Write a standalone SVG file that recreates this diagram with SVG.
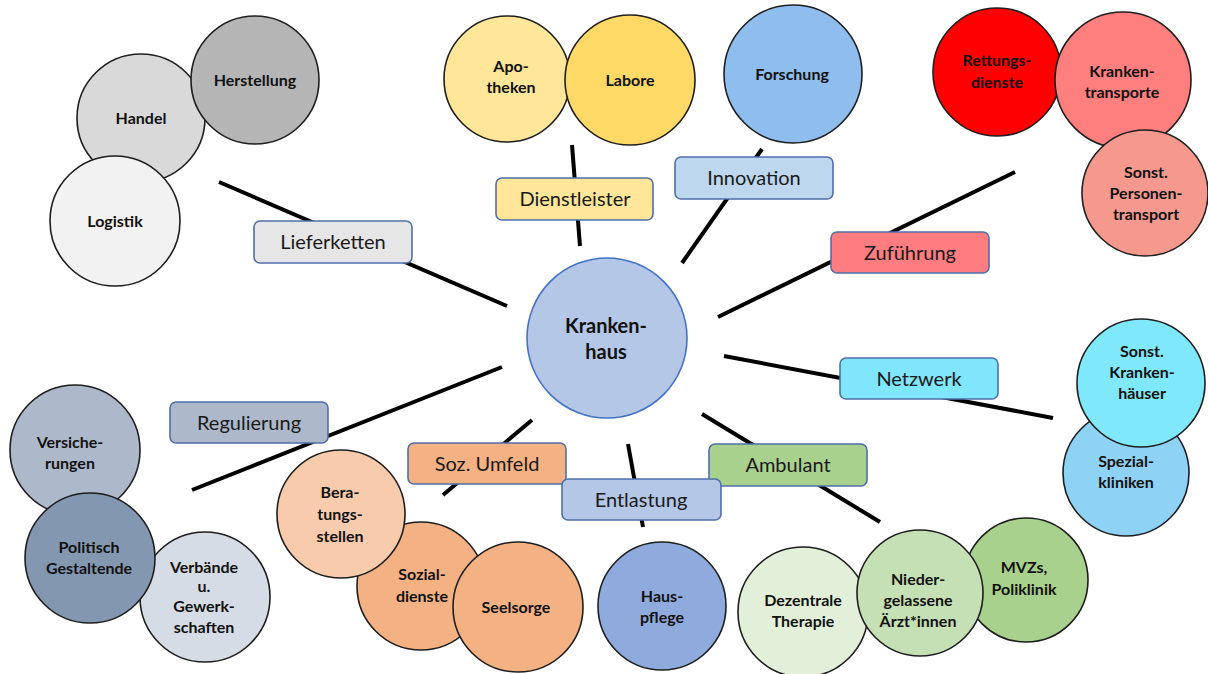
<svg xmlns="http://www.w3.org/2000/svg" width="1208" height="674" viewBox="0 0 1208 674">
<style>
.c{stroke:#1e1e1e;stroke-width:1.6}
.b{stroke:#4f6fa8;stroke-width:1.6}
.t{font-family:Lato,"Liberation Sans",sans-serif;font-weight:700;font-size:16px;fill:#111;text-anchor:middle}
.bt{font-family:Lato,"Liberation Sans",sans-serif;font-size:20px;fill:#1a1a1a;text-anchor:middle}
.ln{stroke:#000;stroke-width:4;stroke-linecap:butt}
</style>
<rect width="1208" height="674" fill="#fff"/>
<g id="connectors">
<line class="ln" x1="219" y1="182" x2="507" y2="306"/>
<line class="ln" x1="572" y1="145" x2="580" y2="246"/>
<line class="ln" x1="762" y1="149" x2="682" y2="263"/>
<line class="ln" x1="1015" y1="172" x2="718" y2="317"/>
<line class="ln" x1="724" y1="356" x2="1053" y2="418"/>
<line class="ln" x1="702" y1="414" x2="880" y2="522"/>
<line class="ln" x1="628" y1="444" x2="643" y2="527"/>
<line class="ln" x1="532" y1="420" x2="443" y2="495"/>
<line class="ln" x1="502" y1="367" x2="192" y2="490"/>
</g>
<g id="handel"><circle class="c" cx="141" cy="118" r="64" fill="#d9d9d9"/><text class="t" x="141" y="124">Handel</text></g>
<g id="herstellung"><circle class="c" cx="255" cy="80" r="64" fill="#b5b5b5"/><text class="t" x="255" y="86">Herstellung</text></g>
<g id="logistik"><circle class="c" cx="115" cy="221" r="65" fill="#f2f2f2"/><text class="t" x="115" y="227">Logistik</text></g>
<g id="lieferketten"><rect class="b" x="254" y="221" width="158" height="42" rx="6" fill="#e7e6e6"/><text class="bt" x="333" y="249">Lieferketten</text></g>

<g id="apotheken"><circle class="c" cx="507" cy="79" r="63" fill="#ffe699"/><text class="t" x="511" y="72">Apo-</text><text class="t" x="511" y="93">theken</text></g>
<g id="labore"><circle class="c" cx="630" cy="80" r="65" fill="#ffd966"/><text class="t" x="630" y="86">Labore</text></g>
<g id="dienstleister"><rect class="b" x="496" y="178" width="157" height="42" rx="6" fill="#ffe699"/><text class="bt" x="575" y="206">Dienstleister</text></g>

<g id="forschung"><circle class="c" cx="793" cy="74" r="69" fill="#8fbdee"/><text class="t" x="792" y="80">Forschung</text></g>
<g id="innovation"><rect class="b" x="675" y="157" width="158" height="42" rx="6" fill="#bdd7ee"/><text class="bt" x="754" y="185">Innovation</text></g>

<g id="rettungsdienste"><circle class="c" cx="997" cy="72" r="64" fill="#ff0000"/><text class="t" x="997" y="66">Rettungs-</text><text class="t" x="997" y="88">dienste</text></g>
<g id="krankentransporte"><circle class="c" cx="1123" cy="80" r="68" fill="#ff7f7f"/><text class="t" x="1122" y="77">Kranken-</text><text class="t" x="1122" y="98">transporte</text></g>
<g id="personentransport"><circle class="c" cx="1145" cy="193" r="63" fill="#f5998e"/><text class="t" x="1146" y="178">Sonst.</text><text class="t" x="1146" y="199">Personen-</text><text class="t" x="1146" y="220">transport</text></g>
<g id="zufuehrung"><rect class="b" x="831" y="232" width="158" height="41" rx="6" fill="#ff7c80"/><text class="bt" x="910" y="260">Zuführung</text></g>

<g id="krankenhaus"><circle cx="607" cy="338" r="80" fill="#b4c7e7" stroke="#4472c4" stroke-width="1.6"/><text class="t" style="font-size:20px" x="606" y="333">Kranken-</text><text class="t" style="font-size:20px" x="606" y="359">haus</text></g>

<g id="netzwerk"><rect class="b" x="840" y="358" width="158" height="41" rx="6" fill="#7fe6fb"/><text class="bt" x="919" y="386">Netzwerk</text></g>
<g id="spezialkliniken"><circle class="c" cx="1126" cy="473" r="63" fill="#8ed2f6"/><text class="t" x="1126" y="467">Spezial-</text><text class="t" x="1126" y="488">kliniken</text></g>
<g id="sonstkrankenhaeuser"><circle class="c" cx="1141" cy="383" r="64" fill="#7fe8fb"/><text class="t" x="1142" y="357">Sonst.</text><text class="t" x="1142" y="378">Kranken-</text><text class="t" x="1142" y="399">häuser</text></g>

<g id="regulierung"><rect class="b" x="170" y="402" width="158" height="41" rx="6" fill="#adb9ca"/><text class="bt" x="249" y="430">Regulierung</text></g>
<g id="versicherungen"><circle class="c" cx="75" cy="450" r="65" fill="#adb9ca"/><text class="t" x="70" y="448">Versiche-</text><text class="t" x="70" y="469">rungen</text></g>
<g id="verbaende"><circle class="c" cx="205" cy="597" r="65" fill="#d6dce5"/><text class="t" x="204" y="573">Verbände</text><text class="t" x="204" y="592">u.</text><text class="t" x="204" y="612">Gewerk-</text><text class="t" x="204" y="633">schaften</text></g>
<g id="politisch"><circle class="c" cx="90" cy="558" r="65" fill="#8497b0"/><text class="t" x="89" y="553">Politisch</text><text class="t" x="89" y="574">Gestaltende</text></g>

<g id="sozumfeld"><rect class="b" x="408" y="443" width="158" height="41" rx="6" fill="#f4b183"/><text class="bt" x="487" y="471">Soz. Umfeld</text></g>
<g id="sozialdienste"><circle class="c" cx="421" cy="586" r="64" fill="#f4b183"/><text class="t" x="422" y="580">Sozial-</text><text class="t" x="422" y="602">dienste</text></g>
<g id="beratungsstellen"><circle class="c" cx="341" cy="514" r="64" fill="#f8cbad"/><text class="t" x="340" y="498">Bera-</text><text class="t" x="340" y="520">tungs-</text><text class="t" x="340" y="542">stellen</text></g>
<g id="seelsorge"><circle class="c" cx="518" cy="607" r="65" fill="#f4b183"/><text class="t" x="516" y="613">Seelsorge</text></g>

<g id="ambulant"><rect class="b" x="709" y="444" width="158" height="42" rx="6" fill="#a9d18e"/><text class="bt" x="788" y="472">Ambulant</text></g>
<g id="entlastung"><rect class="b" x="562" y="479" width="159" height="41" rx="6" fill="#b4c7e7"/><text class="bt" x="641" y="507">Entlastung</text></g>
<g id="hauspflege"><circle class="c" cx="662" cy="606" r="64" fill="#8faadc"/><text class="t" x="662" y="602">Haus-</text><text class="t" x="662" y="623">pflege</text></g>

<g id="dezentrale"><circle class="c" cx="803" cy="612" r="65" fill="#e2f0d9"/><text class="t" x="803" y="606">Dezentrale</text><text class="t" x="803" y="627">Therapie</text></g>
<g id="mvzs"><circle class="c" cx="1026" cy="580" r="62" fill="#a9d18e"/><text class="t" x="1024" y="573">MVZs,</text><text class="t" x="1024" y="595">Poliklinik</text></g>
<g id="niedergelassene"><circle class="c" cx="920" cy="593" r="63" fill="#c5e0b4"/><text class="t" x="918" y="585">Nieder-</text><text class="t" x="918" y="606">gelassene</text><text class="t" x="918" y="627">Ärzt*innen</text></g>
</svg>
